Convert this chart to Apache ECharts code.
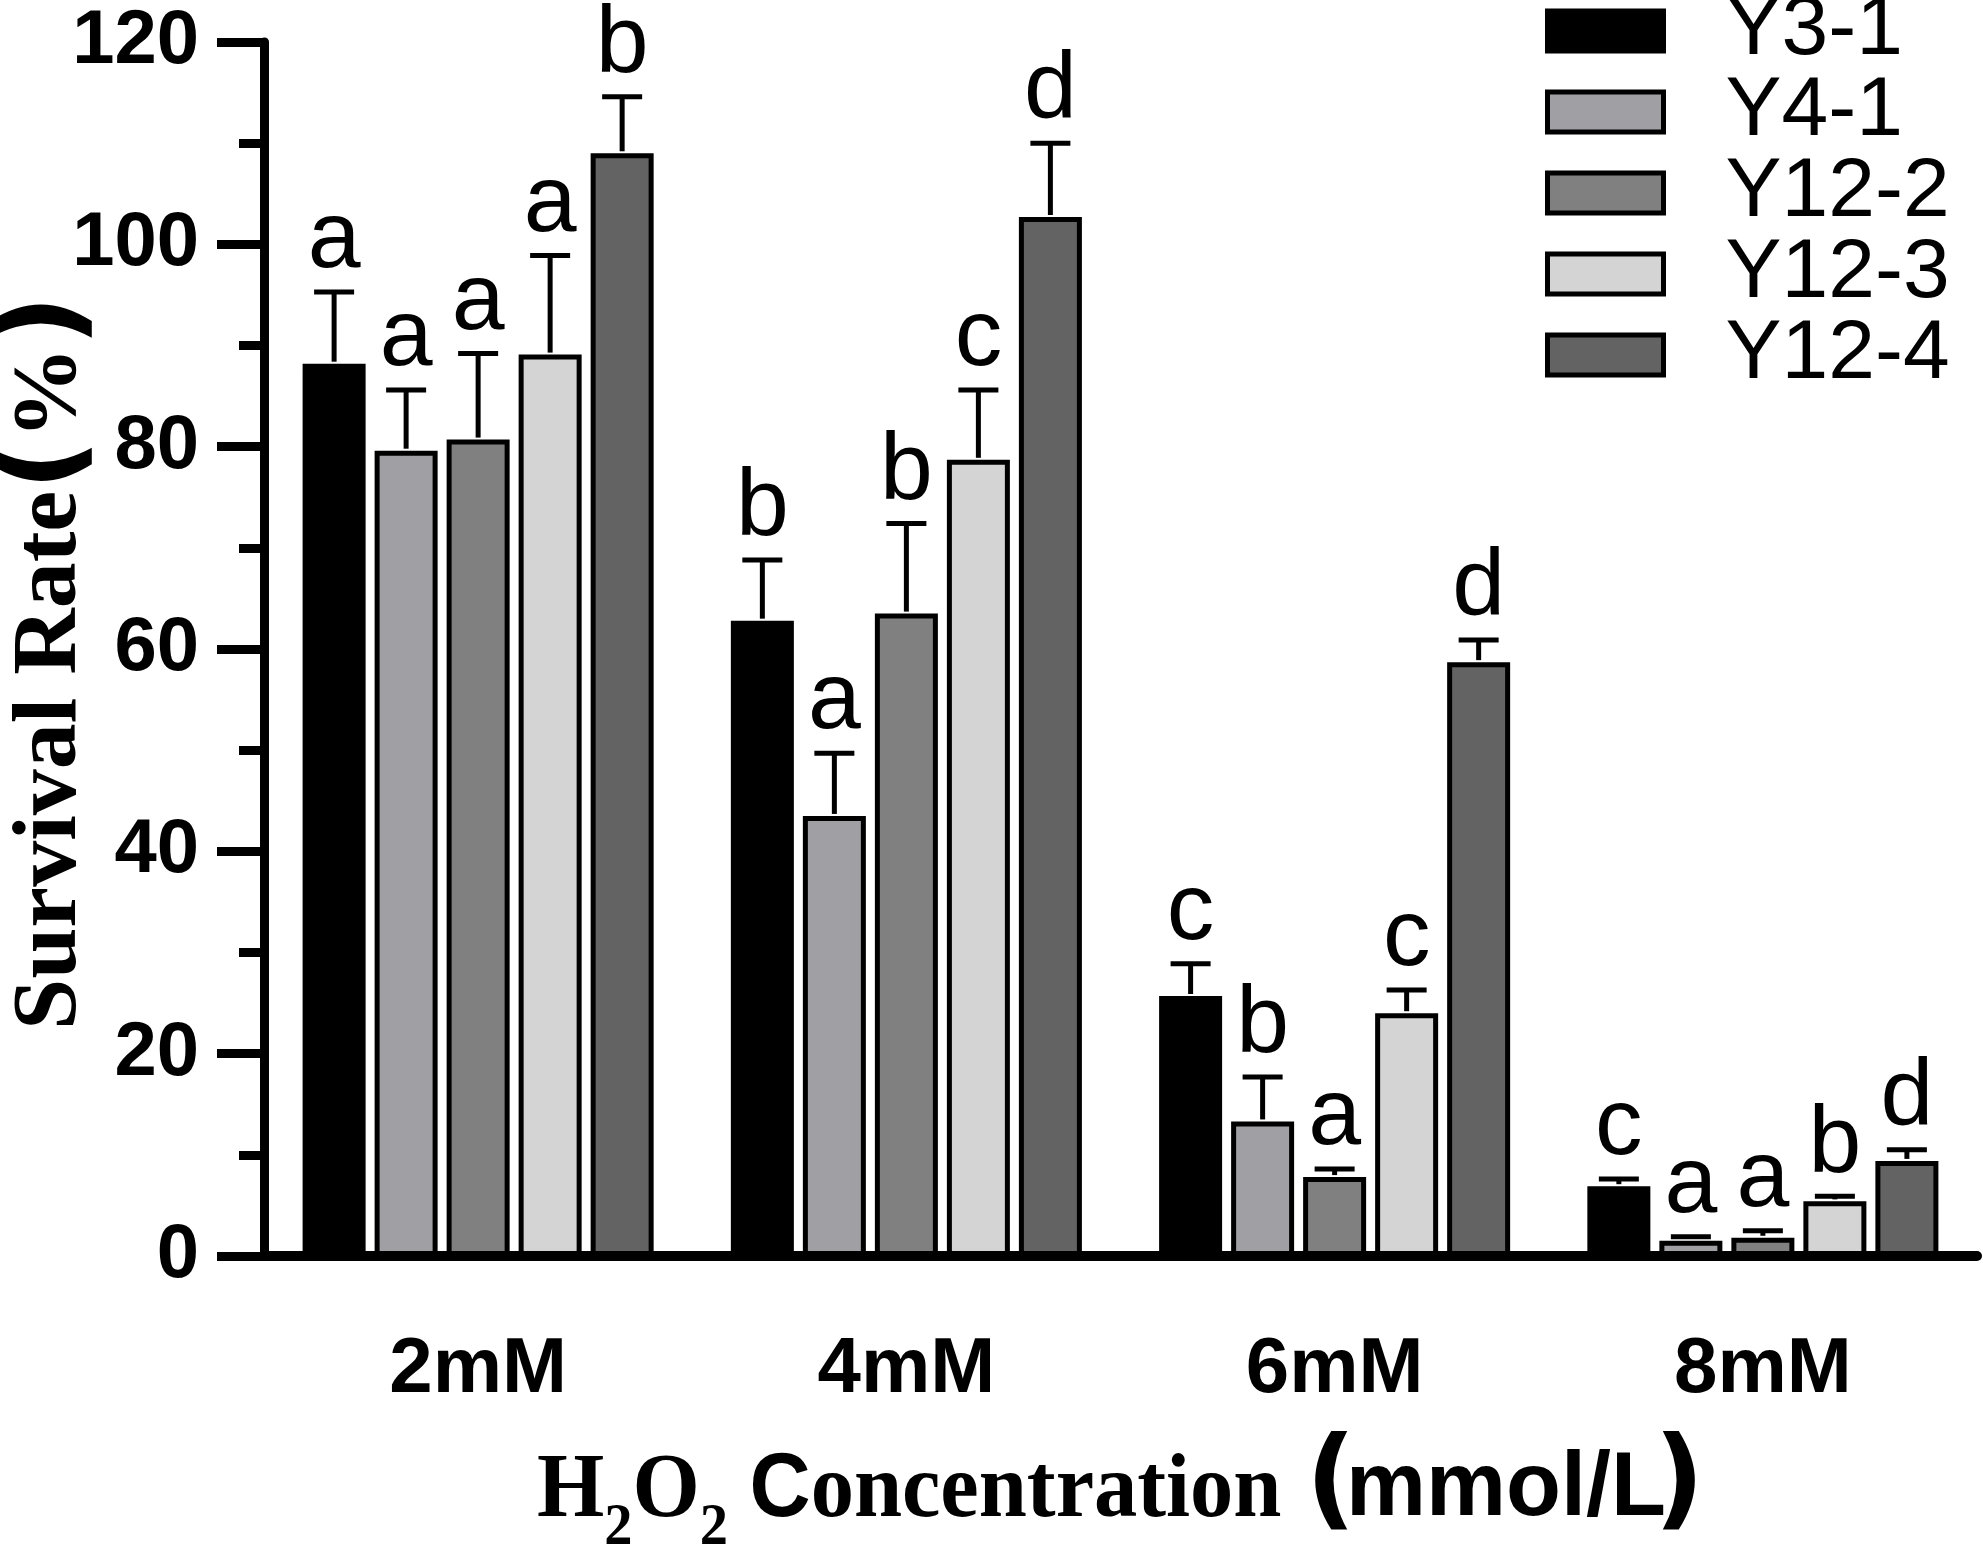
<!DOCTYPE html>
<html><head><meta charset="utf-8">
<script src="https://cdn.jsdelivr.net/npm/echarts@6/dist/echarts.min.js"></script>
<style>html,body{margin:0;padding:0;background:#fff}#c{width:1983px;height:1544px}</style>
</head><body><div id="c"></div>
<script>
// ---- data ----
const categories = ['2mM', '4mM', '6mM', '8mM'];
const seriesNames = ['Y3-1', 'Y4-1', 'Y12-2', 'Y12-3', 'Y12-4'];
const y31 = [88.2, 62.8, 25.7, 6.9];
const y31Err = [7.1, 6.0, 3.2, 0.7];
const y31Letters = ['a', 'b', 'c', 'c'];
const y41 = [79.6, 43.5, 13.3, 1.5];
const y41Err = [6.0, 6.2, 4.4, 0.4];
const y41Letters = ['a', 'a', 'b', 'a'];
const y122 = [80.7, 63.5, 7.8, 1.8];
const y122Err = [8.5, 8.9, 0.8, 0.7];
const y122Letters = ['a', 'b', 'a', 'a'];
const y123 = [89.1, 78.7, 24.0, 5.4];
const y123Err = [9.8, 6.9, 2.3, 0.5];
const y123Letters = ['a', 'c', 'c', 'b'];
const y124 = [109.0, 102.7, 58.7, 9.4];
const y124Err = [5.6, 7.3, 2.2, 1.1];
const y124Letters = ['b', 'd', 'd', 'd'];
const yTicks = [0, 20, 40, 60, 80, 100, 120];

// ---- styles ----
const colors = ['#000000', '#a0a0a4', '#808080', '#d4d4d4', '#636363'];
const BAR_W = 63, BAR_GAP = 0.143, PITCH = BAR_W * (1 + BAR_GAP);
const values = [y31, y41, y122, y123, y124];
const errs = [y31Err, y41Err, y122Err, y123Err, y124Err];
const letters = [y31Letters, y41Letters, y122Letters, y123Letters, y124Letters];

const errData = [];
values.forEach((vals, s) => vals.forEach((v, c) => errData.push([c, v, errs[s][c], s])));

const barSeries = seriesNames.map((name, s) => ({
  name, type: 'bar', data: values[s], barWidth: BAR_W, barGap: (BAR_GAP * 100) + '%',
  itemStyle: { color: colors[s], borderColor: '#000', borderWidth: 5 },
  animation: false
}));

const serif = 'Liberation Serif';
const parenStyle = { fontSize: 110, fontWeight: 'bold', fontFamily: 'DejaVu Sans', fill: '#000' };
const chart = echarts.init(document.getElementById('c'), null, { renderer: 'canvas' });
chart.setOption({
  backgroundColor: '#fff',
  animation: false,
  grid: { left: 264, right: 6, top: 42, bottom: 288, containLabel: false },
  legend: {
    orient: 'vertical', left: 1545, top: -11, padding: 0, itemWidth: 116, itemHeight: 40, itemGap: -3,
    icon: 'rect', data: seriesNames, selectedMode: false,
    itemStyle: { borderColor: '#000', borderWidth: 5 },
    textStyle: { fontSize: 84, fontFamily: 'Liberation Sans', color: '#000', padding: [0, 0, 0, 57] }
  },
  xAxis: {
    type: 'category', data: categories,
    axisLine: { lineStyle: { color: '#000', width: 10 } },
    axisTick: { alignWithLabel: true, length: 53, lineStyle: { color: '#000', width: 9 } },
    axisLabel: { fontSize: 78, fontWeight: 'bold', fontFamily: 'Liberation Sans', color: '#000', margin: 75 },
    splitLine: { show: false }
  },
  yAxis: {
    type: 'value', min: yTicks[0], max: yTicks[yTicks.length - 1], interval: yTicks[1] - yTicks[0],
    axisLine: { show: true, lineStyle: { color: '#000', width: 9 } },
    axisTick: { show: true, length: 47, lineStyle: { color: '#000', width: 9 } },
    minorTick: { show: true, splitNumber: 2, length: 25, lineStyle: { color: '#000', width: 9 } },
    axisLabel: { fontSize: 76, fontWeight: 'bold', fontFamily: 'Liberation Sans', color: '#000', margin: 65 },
    splitLine: { show: false }
  },
  series: barSeries.concat([{
    type: 'custom', z: 5, data: errData, silent: true,
    renderItem(params, api) {
      const c = api.value(0), v = api.value(1), e = api.value(2), s = api.value(3);
      const base = api.coord([c, v]);
      const top = api.coord([c, v + e]);
      const x = base[0] + (s - 2) * PITCH;
      const y0 = base[1] - 2, y1 = top[1];
      return {
        type: 'group', children: [
          { type: 'line', shape: { x1: x, y1: y0, x2: x, y2: y1 }, style: { stroke: '#000', lineWidth: 5 } },
          { type: 'line', shape: { x1: x - 20, y1: y1, x2: x + 20, y2: y1 }, style: { stroke: '#000', lineWidth: 5 } },
          { type: 'text', x: x, y: y1 - 51, style: { text: letters[s][c], fill: '#000', fontSize: 95, fontFamily: 'Liberation Sans', align: 'center', verticalAlign: 'middle' } }
        ]
      };
    }
  }]),
  graphic: [
    {
      type: 'text', x: 51, y: 1030, rotation: Math.PI / 2,
      style: {
        text: '{t|Survival Rate}{p|(}{t|%}{p|)}', align: 'left', verticalAlign: 'middle', fill: '#000',
        rich: {
          t: { fontSize: 92, fontWeight: 'bold', fontFamily: serif, fill: '#000', lineHeight: 120 },
          p: Object.assign({}, parenStyle, { fontSize: 114, lineHeight: 120, padding: [0, 0, 8, 0] })
        }
      }
    },
    {
      type: 'text', x: 537, y: 1496, scaleX: 0.94,
      style: {
        text: '{t|H}{s|2}{t|O}{s|2}{t| }{c|C}{t|oncentration}', align: 'left', verticalAlign: 'middle', fill: '#000',
        rich: {
          t: { fontSize: 92, fontWeight: 'bold', fontFamily: serif, fill: '#000', lineHeight: 100, verticalAlign: 'top' },
          c: { fontSize: 90, fontWeight: 'bold', fontFamily: 'Liberation Sans', fill: '#000', lineHeight: 100, verticalAlign: 'top' },
          s: { fontSize: 60, fontWeight: 'bold', fontFamily: serif, fill: '#000', lineHeight: 60, padding: [52, 0, 0, 0], verticalAlign: 'top' }
        }
      }
    },
    {
      type: 'text', x: 1356, y: 1486,
      style: Object.assign({ text: '(', align: 'right', verticalAlign: 'middle' }, parenStyle)
    },
    {
      type: 'text', x: 1346, y: 1490,
      style: { text: 'mmol/L', align: 'left', verticalAlign: 'middle', fill: '#000', fontSize: 90, fontWeight: 'bold', fontFamily: 'Liberation Sans' }
    },
    {
      type: 'text', x: 1654, y: 1486,
      style: Object.assign({ text: ')', align: 'left', verticalAlign: 'middle' }, parenStyle)
    }
  ]
});
</script></body></html>
